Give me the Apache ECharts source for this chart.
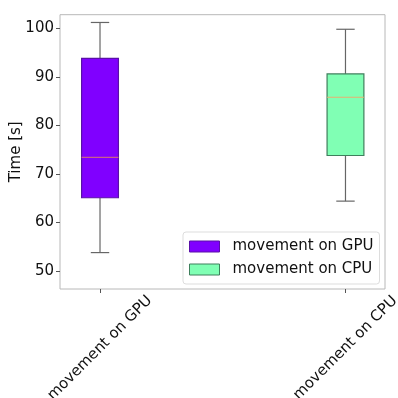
<!DOCTYPE html>
<html>
<head>
<meta charset="utf-8">
<script src="https://cdn.jsdelivr.net/npm/echarts@6/dist/echarts.min.js"></script>
<style>html,body{margin:0;padding:0;background:#fff}#c{width:398px;height:398px}</style>
</head>
<body>
<div id="c"></div>
<script>
// categories and their positions on the x axis
var categories = ['movement on GPU', 'movement on CPU'];
var positions = [1, 2];
// box statistics: [min, Q1, median, Q3, max]
var gpuStats = [53.8, 65.1, 73.4, 93.8, 101.2];
var cpuStats = [64.4, 73.8, 85.8, 90.6, 99.8];
// y tick labels
var yTicks = [50, 60, 70, 80, 90, 100];

var boxWidth = 0.15;
var fills = ['#8000ff', '#80ffb4'];
var edges = ['#5a10a8', '#3f7f5c'];
var medians = ['#c8608a', '#e8b070'];
var whiskerColor = '#666666';

function makeRender(idx) {
  return function (params, api) {
    var x = api.value(0);
    var pMin = api.coord([x, api.value(1)]);
    var pQ1 = api.coord([x, api.value(2)]);
    var pMed = api.coord([x, api.value(3)]);
    var pQ3 = api.coord([x, api.value(4)]);
    var pMax = api.coord([x, api.value(5)]);
    var bw = api.size([boxWidth, 0])[0];
    var cx = pMed[0];
    var lineStyle = {stroke: whiskerColor, lineWidth: 1.2};
    return {
      type: 'group',
      children: [
        {type: 'line', shape: {x1: cx, y1: pMin[1], x2: cx, y2: pQ1[1]}, style: lineStyle},
        {type: 'line', shape: {x1: cx, y1: pQ3[1], x2: cx, y2: pMax[1]}, style: lineStyle},
        {type: 'line', shape: {x1: cx - bw / 4, y1: pMin[1], x2: cx + bw / 4, y2: pMin[1]}, style: lineStyle},
        {type: 'line', shape: {x1: cx - bw / 4, y1: pMax[1], x2: cx + bw / 4, y2: pMax[1]}, style: lineStyle},
        {type: 'rect', shape: {x: cx - bw / 2, y: pQ3[1], width: bw, height: pQ1[1] - pQ3[1]},
          style: {fill: fills[idx], stroke: edges[idx], lineWidth: 1.2}},
        {type: 'line', shape: {x1: cx - bw / 2, y1: pMed[1], x2: cx + bw / 2, y2: pMed[1]},
          style: {stroke: medians[idx], lineWidth: 1.2}}
      ]
    };
  };
}

var chart = echarts.init(document.getElementById('c'), null, {renderer: 'canvas'});
chart.setOption({
  animation: false,
  backgroundColor: '#ffffff',
  grid: {left: 60, right: 13, top: 14.7, bottom: 109, outerBoundsMode: 'none', containLabel: false,
    show: true, borderColor: '#b8b8b8', borderWidth: 1, backgroundColor: 'transparent'},
  xAxis: {
    type: 'value', min: 0.837, max: 2.161,
    splitLine: {show: false},
    axisLine: {show: false},
    axisTick: {show: true, customValues: positions, length: 4, lineStyle: {color: '#555'}},
    axisLabel: {
      customValues: positions,
      formatter: function (v) { return categories[Math.round(v) - 1]; },
      rotate: 45, align: 'center', verticalAlign: 'middle', margin: 59,
      fontSize: 15, color: '#111', fontFamily: 'DejaVu Sans'
    }
  },
  yAxis: {
    type: 'value', min: 46.3, max: 102.8,
    name: 'Time [s]', nameLocation: 'middle', nameGap: 36, nameMoveOverlap: false,
    nameTextStyle: {fontSize: 15, color: '#111', fontFamily: 'DejaVu Sans'},
    splitLine: {show: false},
    axisLine: {show: false},
    axisTick: {show: true, customValues: yTicks, length: 4, lineStyle: {color: '#555'}},
    axisLabel: {customValues: yTicks, fontSize: 15, color: '#111', margin: 6, fontFamily: 'DejaVu Sans'}
  },
  legend: {
    orient: 'vertical', left: 183, top: 232,
    padding: [7, 6, 7, 6], itemGap: 8,
    itemWidth: 30, itemHeight: 11,
    borderColor: '#dddddd', borderWidth: 1, borderRadius: 3, backgroundColor: '#ffffff',
    textStyle: {fontSize: 15, color: '#111', fontFamily: 'DejaVu Sans', padding: [0, 0, 0, 8]},
    data: [
      {name: categories[0], icon: 'rect', itemStyle: {color: fills[0], borderColor: edges[0], borderWidth: 1}},
      {name: categories[1], icon: 'rect', itemStyle: {color: fills[1], borderColor: edges[1], borderWidth: 1}}
    ]
  },
  series: [
    {name: categories[0], type: 'custom', renderItem: makeRender(0),
      itemStyle: {color: fills[0]},
      encode: {x: 0, y: [1, 2, 3, 4, 5]},
      data: [[positions[0]].concat(gpuStats)]},
    {name: categories[1], type: 'custom', renderItem: makeRender(1),
      itemStyle: {color: fills[1]},
      encode: {x: 0, y: [1, 2, 3, 4, 5]},
      data: [[positions[1]].concat(cpuStats)]}
  ]
});
</script>
</body>
</html>
